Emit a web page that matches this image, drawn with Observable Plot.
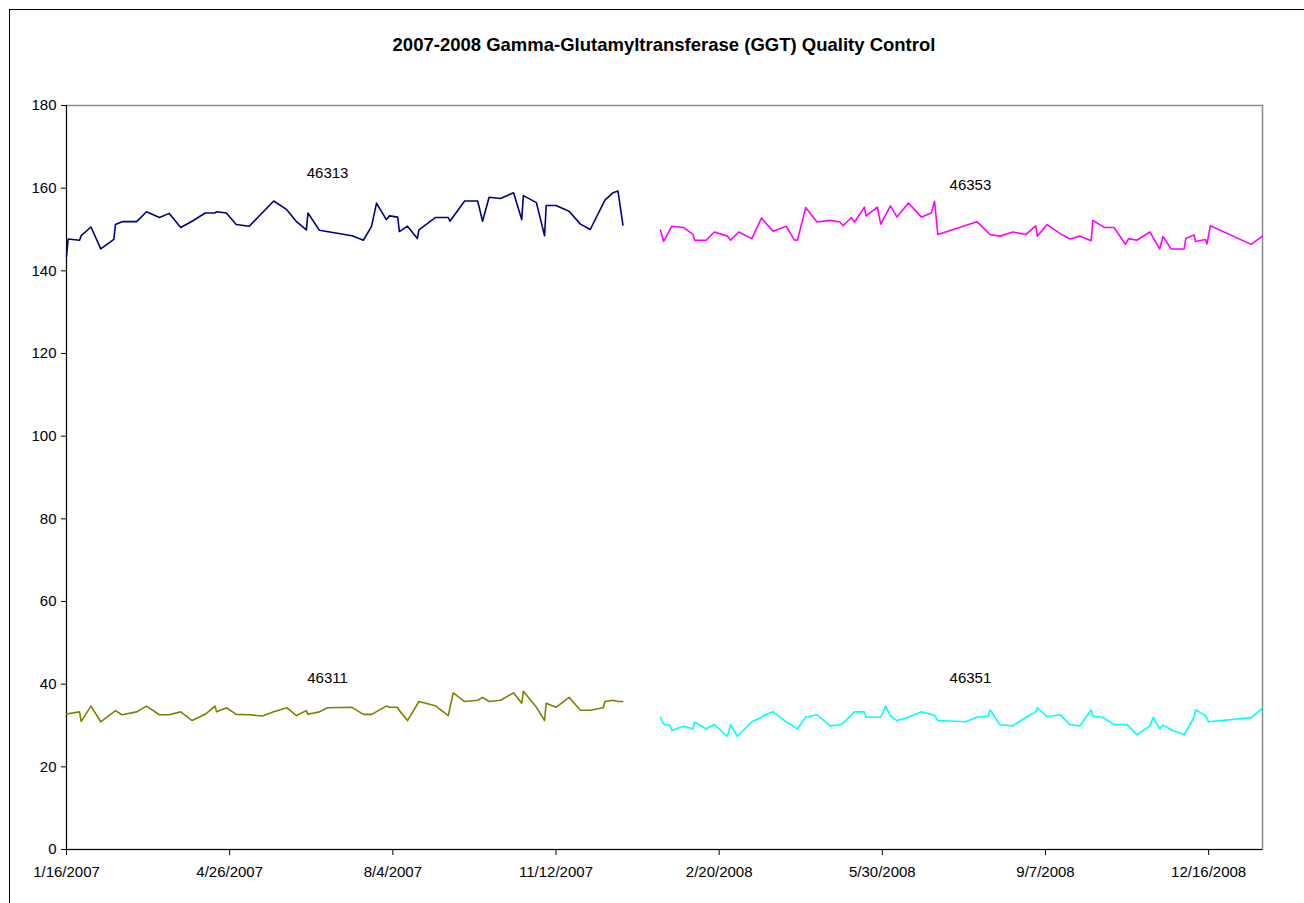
<!DOCTYPE html>
<html><head><meta charset="utf-8">
<script src="https://cdn.jsdelivr.net/npm/d3@7"></script>
<script src="https://cdn.jsdelivr.net/npm/@observablehq/plot@0.6"></script>
<style>
body{margin:0;background:#fff;font-family:"Liberation Sans",Arial,sans-serif;}
#wrap{position:relative;width:1304px;height:903px;overflow:hidden;background:#fff;}
#frame{position:absolute;left:9px;top:9px;width:1400px;height:1000px;border:1px solid #000;box-sizing:border-box;}
#title{position:absolute;left:0;width:1328px;top:34px;text-align:center;font-weight:bold;font-size:18.5px;color:#000;}
#chart{position:absolute;left:0;top:0;}
</style></head>
<body>
<div id="wrap"><div id="frame"></div><div id="title">2007-2008 Gamma-Glutamyltransferase (GGT) Quality Control</div><div id="chart"></div></div>
<script>
// ---- data ----
const xTickLabels = ["1/16/2007","4/26/2007","8/4/2007","11/12/2007","2/20/2008","5/30/2008","9/7/2008","12/16/2008"];
const yTicks = [0,20,40,60,80,100,120,140,160,180];
const xStart = "2007-01-16", xEnd = "2009-01-18";

const dates46313 = ["2007-01-16","2007-01-17","2007-01-24","2007-01-25","2007-01-31","2007-02-06","2007-02-14","2007-02-15","2007-02-19","2007-02-28","2007-03-06","2007-03-14","2007-03-20","2007-03-27","2007-04-03","2007-04-11","2007-04-17","2007-04-18","2007-04-24","2007-04-30","2007-05-08","2007-05-23","2007-05-31","2007-06-06","2007-06-12","2007-06-13","2007-06-20","2007-07-10","2007-07-17","2007-07-22","2007-07-25","2007-07-31","2007-08-02","2007-08-07","2007-08-08","2007-08-13","2007-08-19","2007-08-20","2007-08-30","2007-09-07","2007-09-08","2007-09-17","2007-09-25","2007-09-28","2007-10-02","2007-10-09","2007-10-17","2007-10-22","2007-10-23","2007-10-31","2007-11-05","2007-11-06","2007-11-12","2007-11-20","2007-11-27","2007-12-03","2007-12-12","2007-12-17","2007-12-20","2007-12-23"];
const values46313 = [143.5,147.7,147.4,148.5,150.6,145.3,147.6,151.2,151.9,151.9,154.3,152.9,153.9,150.5,152.0,154.0,154.0,154.3,154.0,151.2,150.8,156.9,154.8,151.9,149.9,154.0,149.8,148.5,147.4,150.8,156.4,152.4,153.3,153.0,149.5,150.8,147.8,149.9,152.9,152.9,152.0,156.9,156.9,152.0,157.8,157.5,158.9,152.4,158.2,156.5,148.5,155.8,155.8,154.4,151.3,150.0,157.1,158.9,159.3,151.1];

const dates46311 = ["2007-01-16","2007-01-24","2007-01-25","2007-01-31","2007-02-06","2007-02-15","2007-02-19","2007-02-28","2007-03-06","2007-03-14","2007-03-20","2007-03-27","2007-04-03","2007-04-11","2007-04-17","2007-04-18","2007-04-24","2007-04-30","2007-05-08","2007-05-16","2007-05-23","2007-05-31","2007-06-06","2007-06-12","2007-06-13","2007-06-20","2007-06-25","2007-07-10","2007-07-17","2007-07-22","2007-07-31","2007-08-02","2007-08-07","2007-08-08","2007-08-13","2007-08-20","2007-08-30","2007-09-07","2007-09-10","2007-09-17","2007-09-25","2007-09-28","2007-10-02","2007-10-09","2007-10-17","2007-10-22","2007-10-23","2007-10-31","2007-11-05","2007-11-06","2007-11-12","2007-11-20","2007-11-27","2007-12-03","2007-12-11","2007-12-12","2007-12-17","2007-12-20","2007-12-23"];
const values46311 = [32.8,33.3,31.0,34.7,30.9,33.6,32.6,33.3,34.7,32.6,32.6,33.3,31.2,32.7,34.7,33.3,34.3,32.7,32.6,32.3,33.3,34.3,32.4,33.6,32.7,33.3,34.3,34.4,32.7,32.7,34.7,34.4,34.4,33.6,31.2,35.8,34.8,32.4,37.9,35.8,36.1,36.8,35.8,36.1,37.9,35.4,38.3,34.4,31.2,35.4,34.4,36.8,33.7,33.7,34.3,35.8,36.1,35.8,35.8];

const dates46353 = ["2008-01-15","2008-01-17","2008-01-22","2008-01-29","2008-02-04","2008-02-05","2008-02-12","2008-02-17","2008-02-25","2008-02-27","2008-03-03","2008-03-11","2008-03-17","2008-03-19","2008-03-24","2008-04-01","2008-04-06","2008-04-08","2008-04-13","2008-04-20","2008-04-28","2008-05-04","2008-05-06","2008-05-11","2008-05-13","2008-05-19","2008-05-20","2008-05-27","2008-05-29","2008-06-04","2008-06-08","2008-06-15","2008-06-23","2008-06-29","2008-07-01","2008-07-03","2008-07-27","2008-08-04","2008-08-10","2008-08-18","2008-08-26","2008-09-01","2008-09-02","2008-09-08","2008-09-16","2008-09-22","2008-09-28","2008-10-05","2008-10-06","2008-10-13","2008-10-19","2008-10-26","2008-10-28","2008-11-02","2008-11-10","2008-11-16","2008-11-18","2008-11-23","2008-12-01","2008-12-02","2008-12-07","2008-12-08","2008-12-14","2008-12-15","2008-12-17","2009-01-11","2009-01-18"];
const values46353 = [149.9,147.1,150.8,150.5,148.8,147.4,147.4,149.4,148.4,147.4,149.4,147.8,152.8,151.8,149.6,150.8,147.5,147.4,155.3,151.8,152.2,151.8,150.9,152.9,151.8,155.4,153.3,155.4,151.3,155.7,153.0,156.4,153.0,154.0,156.8,148.8,151.9,148.8,148.4,149.4,148.8,150.9,148.4,151.2,149.0,147.7,148.4,147.3,152.2,150.5,150.5,146.4,147.8,147.4,149.4,145.3,148.3,145.3,145.3,147.8,148.7,147.1,147.6,146.5,150.9,146.4,148.4];

const dates46351 = ["2008-01-15","2008-01-17","2008-01-21","2008-01-22","2008-01-29","2008-02-04","2008-02-05","2008-02-12","2008-02-17","2008-02-25","2008-02-27","2008-03-02","2008-03-11","2008-03-17","2008-03-19","2008-03-24","2008-04-01","2008-04-08","2008-04-13","2008-04-20","2008-04-28","2008-05-04","2008-05-06","2008-05-13","2008-05-19","2008-05-20","2008-05-29","2008-06-01","2008-06-04","2008-06-08","2008-06-15","2008-06-23","2008-07-01","2008-07-03","2008-07-20","2008-07-27","2008-08-03","2008-08-04","2008-08-10","2008-08-18","2008-08-26","2008-09-01","2008-09-02","2008-09-08","2008-09-16","2008-09-22","2008-09-28","2008-10-05","2008-10-06","2008-10-12","2008-10-19","2008-10-27","2008-11-02","2008-11-10","2008-11-12","2008-11-16","2008-11-18","2008-11-24","2008-12-01","2008-12-07","2008-12-08","2008-12-14","2008-12-16","2009-01-11","2009-01-18"];
const values46351 = [32.0,30.3,30.0,28.8,29.8,29.2,30.8,29.2,30.2,27.4,30.2,27.4,30.9,32.0,32.6,33.3,30.9,29.2,32.0,32.6,29.9,30.2,30.6,33.3,33.3,32.0,32.0,34.7,32.3,31.2,32.0,33.3,32.5,31.2,30.9,32.0,32.3,33.8,30.2,29.9,32.0,33.3,34.3,32.1,32.6,30.2,29.9,33.8,32.3,32.0,30.2,30.2,27.8,29.9,32.0,29.2,30.1,28.8,27.8,32.0,33.8,32.4,30.9,31.9,34.2];

const seriesNames = ["46313","46353","46311","46351"];
const seriesColors = ["#000080","#FF00FF","#808000","#00FFFF"];
const labelDates = ["2007-06-25","2008-07-23","2007-06-25","2008-07-23"];
const labelValues = [163.6,160.7,41.5,41.5];

// ---- build ----
const parseISO = d3.utcParse("%Y-%m-%d");
const parseTick = d3.utcParse("%m/%d/%Y");
const fmt = d3.utcFormat("%-m/%-d/%Y");
const xTicks = xTickLabels.map(parseTick);
const seriesDates = [dates46313, dates46353, dates46311, dates46351];
const seriesValues = [values46313, values46353, values46311, values46351];
const tables = seriesNames.map((name, i) =>
  seriesDates[i].map((d, j) => ({date: parseISO(d), value: seriesValues[i][j], series: name})));
const labels = seriesNames.map((name, i) => ({date: parseISO(labelDates[i]), value: labelValues[i], name}));

const chart = Plot.plot({
  width: 1304,
  height: 903,
  marginLeft: 66,
  marginRight: 42,
  marginTop: 105,
  marginBottom: 54,
  style: {fontFamily: "'Liberation Sans', Arial, sans-serif", fontSize: "15px", color: "#000", background: "transparent", overflow: "visible"},
  x: {type: "utc", domain: [parseISO(xStart), parseISO(xEnd)]},
  y: {domain: [0, 180]},
  marks: [
    Plot.frame({stroke: "#8a8a8a", strokeWidth: 1.5}),
    Plot.ruleX([parseISO(xStart)], {stroke: "#000"}),
    Plot.ruleY([0], {stroke: "#000"}),
    Plot.axisY({ticks: yTicks, tickSize: 5, tickPadding: 5, label: null, fontSize: 15}),
    Plot.axisX({ticks: xTicks, tickFormat: fmt, tickSize: 6, tickPadding: 11, label: null, fontSize: 15}),
    ...tables.map((t, i) => Plot.line(t, {x: "date", y: "value", stroke: seriesColors[i], strokeWidth: 1.6})),
    Plot.text(labels, {x: "date", y: "value", text: "name", fontSize: 15, fill: "#000"})
  ]
});
document.getElementById("chart").appendChild(chart);
</script>
</body></html>
